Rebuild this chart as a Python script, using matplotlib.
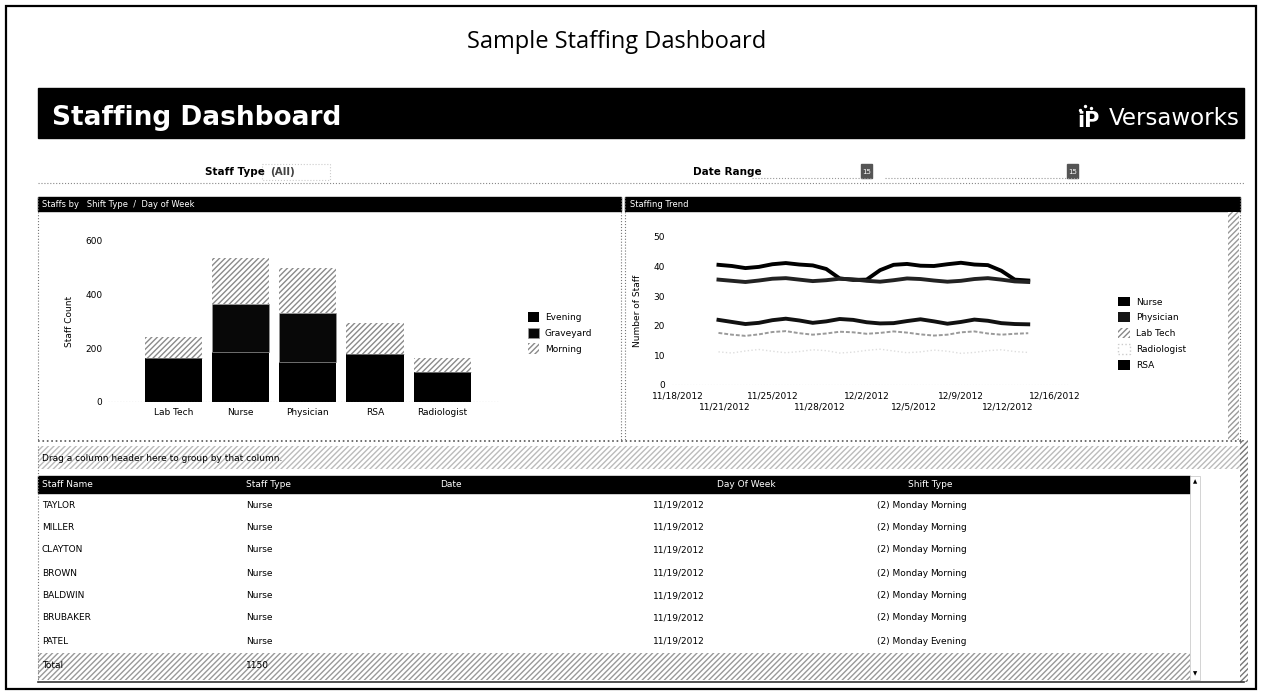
import numpy as np
import pandas as pd
import matplotlib
matplotlib.use("Agg")
import matplotlib.pyplot as plt
from matplotlib.patches import Rectangle, Patch

W, H = 1264, 694

# bar chart: staff count by staff type / shift
staff_types = ["Lab Tech", "Nurse", "Physician", "RSA", "Radiologist"]
evening = [164, 187, 150, 179, 112]
graveyard = [0, 179, 182, 0, 0]
morning = [78, 171, 168, 116, 52]
bar_ticks = [0, 200, 400, 600]

# line chart: staffing trend, daily 11/21/2012 .. 12/14/2012
trend_start, trend_end = "2012-11-21", "2012-12-14"
nurse = [40.6, 40.2, 39.5, 39.9, 40.8, 41.2, 40.7, 40.4, 39.2, 36.0, 35.5, 35.6,
         38.8, 40.6, 40.9, 40.3, 40.2, 40.8, 41.3, 40.7, 40.5, 38.6, 35.6, 35.3]
physician = [35.6, 35.2, 34.8, 35.3, 35.9, 36.1, 35.6, 35.1, 35.4, 35.9, 35.7, 35.2,
             34.9, 35.4, 36.0, 35.8, 35.3, 34.9, 35.2, 35.8, 36.1, 35.6, 35.0, 34.8]
lab_tech = [17.6, 17.0, 16.6, 17.1, 17.9, 18.2, 17.5, 17.0, 17.4, 18.0, 17.8, 17.3,
            17.6, 18.1, 17.7, 17.1, 16.7, 17.0, 17.8, 18.1, 17.4, 17.0, 17.3, 17.5]
radiologist = [11.2, 10.8, 11.5, 12.0, 11.4, 10.9, 11.3, 11.9, 11.6, 10.8, 11.1, 11.7,
               12.1, 11.5, 10.9, 11.2, 11.8, 11.4, 10.7, 11.0, 11.6, 11.9, 11.3, 11.0]
rsa = [22.0, 21.3, 20.6, 21.0, 21.9, 22.4, 21.8, 21.0, 21.5, 22.3, 22.0, 21.2,
       20.8, 20.9, 21.6, 22.2, 21.5, 20.7, 21.3, 22.1, 21.7, 20.9, 20.6, 20.5]
trend_ticks = [0, 10, 20, 30, 40, 50]
date_ticks = ["2012-11-18 00:00", "2012-11-21 12:00", "2012-11-25 00:00", "2012-11-28 12:00",
              "2012-12-02 00:00", "2012-12-05 12:00", "2012-12-09 00:00", "2012-12-12 12:00",
              "2012-12-16 00:00"]
date_labels = ["11/18/2012", "11/21/2012", "11/25/2012", "11/28/2012", "12/2/2012",
               "12/5/2012", "12/9/2012", "12/12/2012", "12/16/2012"]

# grid rows
grid_cols = ["Staff Name", "Staff Type", "Date", "Day Of Week", "Shift Type"]
names = ["TAYLOR", "MILLER", "CLAYTON", "BROWN", "BALDWIN", "BRUBAKER", "PATEL"]
types = ["Nurse"] * 7
dates = ["11/19/2012"] * 7
days = ["(2) Monday"] * 7
shifts = ["Morning"] * 6 + ["Evening"]
footer = ["Total", "1150"]

plt.rcParams["font.family"] = ["DejaVu Sans"]
fig = plt.figure(figsize=(W / 100, H / 100), dpi=100)
bg = fig.add_axes([0, 0, 1, 1])
bg.set_xlim(0, W)
bg.set_ylim(H, 0)
bg.axis("off")


def px_axes(l, t, r, b):
	return fig.add_axes([l / W, 1 - b / H, (r - l) / W, (b - t) / H])


def box(x0, y0, x1, y1, **kw):
	bg.add_patch(Rectangle((x0, y0), x1 - x0, y1 - y0, **kw))


# outer frame + title
box(6, 6, 1256, 689, fill=False, lw=1.6, ec="black")
bg.text(617, 42, "Sample Staffing Dashboard", fontsize=17, ha="center", va="center", family="Open Sans")

# header bar
box(38, 88, 1244, 138, color="black")
bg.text(52, 118, "Staffing Dashboard", color="white", fontsize=19, weight="bold", va="center")
bg.text(1240, 118, "Versaworks", color="white", fontsize=16.5, ha="right", va="center")
bg.text(1088, 121, "iP", color="white", fontsize=15, ha="center", va="center", weight="bold")
bg.scatter([1080, 1085, 1091], [110, 106, 108], s=2, c="white")

# filters
bg.text(205, 172, "Staff Type", fontsize=7.5, weight="bold", va="center")
bg.text(270, 172, "(All)", fontsize=7.5, weight="bold", color="#444", va="center")
box(262, 164, 330, 180, fill=False, ec="#cccccc", lw=0.8, ls=":")
bg.text(693, 172, "Date Range", fontsize=7.5, weight="bold", va="center")
for x0, x1 in [(752, 872), (885, 1078)]:
	bg.plot([x0, x1], [178, 178], color="#999999", lw=0.8, ls=":")
	box(x1 - 11, 164, x1, 178, color="#555555")
	bg.text(x1 - 5.5, 172, "15", color="white", fontsize=5, ha="center", va="center")
bg.plot([38, 1244], [183, 183], color="#888888", lw=0.8, ls=":")

# panel headers and frames
box(38, 197, 621, 211, color="black")
bg.text(42, 204, "Staffs by   Shift Type  /  Day of Week", color="white", fontsize=6, va="center")
box(625, 197, 1240, 211, color="black")
bg.text(630, 204, "Staffing Trend", color="white", fontsize=6, va="center")
for x in [38, 621, 625, 1240]:
	bg.plot([x, x], [197, 440], color="#777777", lw=0.8, ls=":")
bg.plot([38, 1244], [441, 441], color="#555555", lw=1.2, ls=":")
box(1228, 212, 1239, 440, fc="white", ec="#999999", hatch="//////", lw=0)

# stacked bar chart
ax1 = px_axes(108, 241, 500, 402)
xs = np.arange(len(staff_types))
ev = np.array(evening)
gv = np.array(graveyard)
b1 = ax1.bar(xs, ev, width=0.85, color="black", label="Evening")
b2 = ax1.bar(xs, gv, bottom=ev, width=0.85, color="#080808", ec="#999999", lw=0.5, label="Graveyard")
b3 = ax1.bar(xs, morning, bottom=ev + gv, width=0.85, fc="white", ec="#8a8a8a", hatch="//////", lw=0, label="Morning")
ax1.set_xlim(-0.97, 4.86)
ax1.set_ylim(0, 600)
ax1.set_yticks(bar_ticks)
ax1.set_xticks(xs, staff_types)
ax1.tick_params(length=0, labelsize=6.5, pad=4)
for s in ax1.spines.values():
	s.set_visible(False)
ax1.axhline(0, color="#777777", lw=0.8, ls=":")
ax1.set_ylabel("Staff Count", fontsize=6.5, labelpad=8)
ax1.legend(handles=[b1, b2, b3], loc="center left", bbox_to_anchor=(1.05, 0.43), frameon=False,
           fontsize=6.5, handlelength=1.3, handleheight=1.4, labelspacing=0.6, handletextpad=0.6)

# staffing trend line chart
ax2 = px_axes(672, 237, 1070, 385)
days_x = pd.date_range(trend_start, trend_end, freq="D")
d0 = pd.Timestamp("2012-11-18")
ax2.plot(days_x, nurse, color="black", lw=2.8)
ax2.plot(days_x, physician, color="#222222", lw=2.8)
ax2.plot(days_x, rsa, color="#111111", lw=2.8)
ax2.plot(days_x, lab_tech, color="#9a9a9a", lw=1.4, ls=(0, (2, 1)))
ax2.plot(days_x, radiologist, color="#dddddd", lw=1.0, ls=":")
ax2.set_xlim(d0 - pd.Timedelta(days=0.45), d0 + pd.Timedelta(days=29.1))
ax2.set_ylim(0, 50)
ax2.set_yticks(trend_ticks)
ax2.set_xticks(pd.to_datetime(date_ticks, format="%Y-%m-%d %H:%M"),
               [lab if i % 2 == 0 else "\n" + lab for i, lab in enumerate(date_labels)])
ax2.tick_params(length=0, labelsize=6.5, pad=5)
for s in ax2.spines.values():
	s.set_visible(False)
ax2.axhline(0, color="#aaaaaa", lw=0.8, ls=":")
ax2.set_ylabel("Number of Staff", fontsize=6.5, labelpad=8)
handles = [Patch(fc="black", label="Nurse"), Patch(fc="#151515", label="Physician"),
           Patch(fc="white", ec="#888888", hatch="//////", lw=0, label="Lab Tech"),
           Patch(fc="white", ec="#cccccc", ls=":", label="Radiologist"),
           Patch(fc="black", label="RSA")]
ax2.legend(handles=handles, loc="center left", bbox_to_anchor=(1.1, 0.35), frameon=False,
           fontsize=6.5, handlelength=1.3, handleheight=1.3, labelspacing=0.65, handletextpad=0.7)

# data grid
box(38, 446, 1244, 469, fc="white", ec="#bbbbbb", hatch="//////", lw=0)
bg.text(42, 458, "Drag a column header here to group by that column.", fontsize=6.5, va="center")
box(38, 476, 1190, 493, color="black")
col_x = [42, 246, 440, 717, 908]
for x, c in zip(col_x, grid_cols):
	bg.text(x, 484.5, c, color="white", fontsize=6.5, va="center")
row_y = [505, 527, 550, 573, 596, 618, 641]
for i, y in enumerate(row_y):
	bg.text(42, y, names[i], fontsize=6.5, va="center")
	bg.text(246, y, types[i], fontsize=6.5, va="center")
	bg.text(705, y, dates[i], fontsize=6.5, va="center", ha="right")
	bg.text(877, y, days[i], fontsize=6.5, va="center")
	bg.text(930, y, shifts[i], fontsize=6.5, va="center")
box(38, 653, 1190, 680, fc="white", ec="#999999", hatch="//////", lw=0)
bg.text(42, 666, footer[0], fontsize=6.5, va="center")
bg.text(246, 666, footer[1], fontsize=6.5, va="center")
bg.plot([38, 38], [446, 682], color="#777777", lw=0.8, ls=":")
bg.plot([38, 1244], [682, 682], color="#333333", lw=1.2)
# scrollbar
box(1190, 476, 1200, 680, fc="white", ec="#cccccc", lw=0.6)
bg.text(1195, 482, "▲", fontsize=4, ha="center", va="center")
bg.text(1195, 674, "▼", fontsize=4, ha="center", va="center")
box(1240, 440, 1248, 682, fc="white", ec="#777777", hatch="//////", lw=0)

fig.savefig("out.png", dpi=100)
